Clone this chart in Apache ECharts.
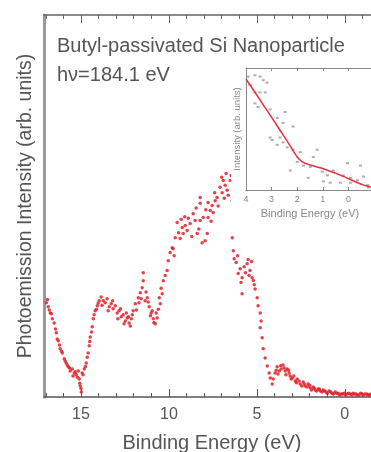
<!DOCTYPE html>
<html><head><meta charset="utf-8">
<script src="https://cdn.jsdelivr.net/npm/echarts@6/dist/echarts.min.js"></script>
<style>html,body{margin:0;padding:0;background:#fff}#c{width:371px;height:452px}</style>
</head><body><div id="c"></div>
<script>
// Main spectrum: binding energy (eV) and photoemission intensity (arb. units)
const mainEnergy = [16.97,16.86,16.74,16.63,16.52,16.40,16.29,16.18,16.06,15.95,15.84,15.72,15.61,15.50,15.38,15.27,15.15,15.10,15.04,14.98,14.93,14.81,14.70,14.59,14.53,14.47,14.36,14.30,14.19,14.07,13.96,13.85,13.73,13.62,13.51,13.39,13.28,13.17,13.05,12.94,12.83,12.71,12.60,12.48,12.37,12.26,12.14,12.03,11.91,11.74,11.63,11.52,11.46,11.46,11.35,11.23,11.12,11.01,10.95,10.89,10.78,10.67,10.49,10.38,10.32,10.21,10.10,10.04,9.93,9.81,9.76,9.64,9.53,9.36,9.24,9.19,9.07,8.96,8.79,8.62,8.51,8.39,8.22,8.22,8.22,8.11,8.05,7.94,7.82,7.77,7.77,7.65,7.54,7.48,7.37,7.26,7.09,6.97,6.91,6.80,6.69,6.63,6.52,6.46,6.40,6.40,6.34,6.29,6.18,6.06,5.95,5.84,5.84,5.72,5.55,5.44,5.39,5.27,5.15,5.10,4.98,4.93,4.81,4.81,4.76,4.70,4.64,4.53,4.41,4.30,4.24,4.13,4.07,3.96,3.85,3.73,3.62,3.51,3.39,3.28,3.17,3.11,2.99,2.82,2.71,2.54,2.37,2.26,2.09,1.97,1.80,1.69,1.52,1.40,1.23,1.06,0.89,0.72,0.55,0.38,0.21,0.04,-0.13,-0.30,-0.47,-0.64,-0.81,-0.98,-1.15,-1.32,-1.49,-1.66,-1.83];
const mainIntensity = [24.7,23.6,22.0,20.5,19.4,16.8,14.7,12.6,11.5,10.0,8.9,7.9,6.8,7.3,6.3,5.8,6.8,4.7,2.9,1.3,6.3,7.3,8.9,11.5,13.4,15.7,18.4,20.5,22.6,23.9,25.2,26.2,25.2,24.7,25.7,23.6,24.4,23.1,23.9,22.0,22.6,21.0,21.5,19.9,20.7,19.4,20.5,22.6,24.4,26.0,27.3,28.6,30.4,32.5,25.2,26.0,23.6,22.0,22.6,20.5,19.2,20.7,24.4,27.0,30.4,31.8,33.1,35.7,37.8,39.1,38.8,41.7,45.7,41.5,44.4,42.8,44.9,43.6,45.4,48.0,46.2,42.8,46.2,50.7,52.2,40.4,47.0,40.9,42.8,47.0,50.9,48.8,50.1,48.3,51.4,52.2,54.9,53.5,56.7,55.4,54.1,52.8,56.7,58.0,51.4,41.7,38.3,36.2,35.2,32.3,33.6,31.2,27.0,34.1,34.9,31.8,33.1,31.2,29.4,28.3,26.0,23.9,22.0,18.1,19.9,15.5,12.6,10.2,8.1,6.3,5.0,3.4,4.7,6.3,7.9,6.8,7.3,8.4,6.8,7.3,6.3,5.5,5.0,4.2,4.7,3.4,3.9,2.9,3.4,2.4,2.6,1.8,2.1,1.6,1.8,1.3,1.6,1.0,1.3,1.0,0.8,1.0,0.8,0.8,1.0,0.8,0.5,0.8,0.8,0.5,0.8,0.5,0.8];
// Second sweep of points (scatter of the band)
const extraEnergy = [16.90,16.80,16.68,16.45,16.35,16.22,16.10,15.90,15.78,15.65,15.45,15.32,15.20,15.07,15.00,14.88,14.75,14.64,14.50,14.40,14.25,14.12,14.02,13.80,13.45,13.20,12.90,12.75,12.55,12.42,12.30,12.20,12.08,11.85,11.70,11.58,11.30,11.18,11.05,10.85,10.72,10.60,10.55,10.44,9.70,9.45,9.30,9.10,8.90,8.70,8.45,8.30,7.90,7.60,7.40,7.20,7.00,6.85,6.75,6.10,5.90,5.65,5.50,5.30,5.20,3.90,3.80,3.65,3.45,3.35,3.20,3.05,2.90,2.75,2.60,2.45,2.30,2.15,2.00,1.90,1.75,1.60,1.45,1.30,1.15,1.00,0.80,0.65,0.47,0.30,0.12,-0.05,-0.22,-0.40,-0.55,-0.72,-0.90,-1.05,-1.25,-1.40,-1.58];
const extraIntensity = [25.5,22.8,21.8,17.8,15.2,13.6,12.0,9.4,8.4,7.6,5.5,6.6,5.2,3.6,2.2,5.8,8.0,10.4,14.5,17.0,21.5,23.0,24.6,24.0,22.6,25.2,20.5,23.1,19.2,22.0,21.0,18.6,21.5,22.8,24.7,25.7,27.5,24.9,21.3,19.5,22.0,23.0,26.0,28.5,37.0,43.0,46.5,47.2,46.8,42.0,49.5,44.0,49.0,46.0,53.5,50.0,57.5,52.0,58.5,37.0,30.0,32.5,36.0,35.5,30.5,7.0,6.0,8.2,7.6,5.8,7.0,4.7,5.5,3.7,4.2,2.9,3.4,2.6,3.1,1.8,2.3,1.6,2.1,1.3,1.6,1.0,1.3,0.8,1.0,0.5,0.8,0.5,1.0,0.5,0.8,0.5,1.0,0.5,0.8,0.5,0.8];

// Inset: near-edge data and fitted line
const insetEnergy = [3.92,3.65,3.45,3.33,3.18,3.84,3.65,3.45,3.25,3.65,3.53,3.06,2.47,2.78,2.55,2.16,3.06,2.98,2.67,2.78,2.55,2.39,2.16,1.88,1.22,1.37,2.27,2.00,1.76,1.49,1.57,1.02,0.82,0.59,0.04,-0.47,0.20,-0.08,0.98,0.71,0.31,-0.08,-0.35,-0.59,-0.75,-0.78];
const insetIntensity = [9.3,9.4,9.3,9.0,8.8,8.6,8.0,8.0,8.0,7.1,6.8,6.6,6.4,5.9,5.5,5.2,4.3,4.1,4.3,3.7,3.9,3.5,3.3,3.1,3.3,2.7,1.6,2.3,2.0,1.9,1.0,1.5,1.2,1.6,2.2,2.0,1.2,1.0,0.7,0.6,0.6,0.6,0.8,1.1,0.4,0.2];
const fitEnergy = [4.0,3.33,2.67,2.27,2.0,1.8,1.5,1.06,0.3,-0.6,-1.0];
const fitIntensity = [9.1,7.0,4.9,3.6,2.7,2.3,2.05,1.8,1.2,0.4,0.2];

const mainTickLabels = [15,10,5,0];
const mainMinorTicks = [-2,-1,0,1,2,3,4,5,6,7,8,9,10,11,12,13,14,15,16,17];
const insetTicks = [4,3,2,1,0];

const titleText = 'Butyl-passivated Si Nanoparticle';
const photonText = 'h\u03bd=184.1 eV';

const font = '"Liberation Sans", Arial, Helvetica, sans-serif';
const zip = (a, b) => a.map((v, i) => [v, b[i]]);

const chart = echarts.init(document.getElementById('c'), null, {renderer: 'canvas'});

function tickAxis(grid, pos, vals, len, min, max, color, z) {
  return {
    gridIndex: grid, type: 'value', position: pos, inverse: true, min: min, max: max, z: z,
    axisLine: {show: false, onZero: false}, splitLine: {show: false}, axisLabel: {show: false},
    axisTick: {show: true, inside: true, length: len, customValues: vals, lineStyle: {color: color, width: 1}}
  };
}

const option = {
  backgroundColor: '#fff',
  animation: false,
  textStyle: {fontFamily: font},
  grid: [
    {left: 44, top: 15, right: -9, bottom: 55, outerBoundsMode: 'none', containLabel: false},
    {left: 246, top: 68, right: -3, bottom: 262, outerBoundsMode: 'none', containLabel: false}
  ],
  xAxis: [
    {
      gridIndex: 0, type: 'value', position: 'bottom', inverse: true, min: -2, max: 17.1,
      axisLine: {onZero: false, lineStyle: {color: '#555', width: 1.5}},
      axisTick: {show: true, inside: true, length: 4, customValues: mainMinorTicks, lineStyle: {color: '#555'}},
      axisLabel: {customValues: mainTickLabels, color: '#555', fontSize: 16, margin: 10},
      splitLine: {show: false},
      name: 'Binding Energy (eV)', nameLocation: 'middle', nameGap: 36,
      nameTextStyle: {fontSize: 20, color: '#555'}
    },
    tickAxis(0, 'bottom', mainTickLabels, 8, -2, 17.1, '#555', 0),
    {
      gridIndex: 0, type: 'value', position: 'top', inverse: true, min: -2, max: 17.1,
      axisLine: {onZero: false, lineStyle: {color: '#666', width: 1.5}},
      axisTick: {show: true, inside: true, length: 4, customValues: mainMinorTicks, lineStyle: {color: '#666'}},
      axisLabel: {show: false}, splitLine: {show: false}
    },
    tickAxis(0, 'top', mainTickLabels, 8, -2, 17.1, '#666', 0),
    {
      gridIndex: 1, type: 'value', position: 'bottom', inverse: true, min: -1.0, max: 4.0, z: 20,
      axisLine: {onZero: false, lineStyle: {color: '#888', width: 1}},
      axisTick: {show: true, inside: true, length: 3, customValues: insetTicks, lineStyle: {color: '#888'}},
      axisLabel: {customValues: insetTicks, color: '#888', fontSize: 9, margin: 5},
      splitLine: {show: false},
      name: 'Binding Energy (eV)', nameLocation: 'middle', nameGap: 18,
      nameTextStyle: {fontSize: 11, color: '#888'}
    },
    {
      gridIndex: 1, type: 'value', position: 'top', inverse: true, min: -1.0, max: 4.0, z: 20,
      axisLine: {onZero: false, lineStyle: {color: '#888', width: 1}},
      axisTick: {show: true, inside: true, length: 3, customValues: insetTicks, lineStyle: {color: '#888'}},
      axisLabel: {show: false}, splitLine: {show: false}
    }
  ],
  yAxis: [
    {
      gridIndex: 0, type: 'value', min: 0, max: 100, position: 'left',
      axisLine: {show: true, onZero: false, lineStyle: {color: '#999', width: 3}},
      axisTick: {show: false}, axisLabel: {show: false}, splitLine: {show: false},
      name: 'Photoemission Intensity (arb. units)', nameLocation: 'middle', nameGap: 8,
      nameTextStyle: {fontSize: 19.5, color: '#555'}
    },
    {
      gridIndex: 1, type: 'value', min: 0, max: 10, z: 20, position: 'left',
      axisLine: {show: true, onZero: false, lineStyle: {color: '#888', width: 1}},
      axisTick: {show: false}, axisLabel: {show: false}, splitLine: {show: false},
      name: 'Intensity (arb. units)', nameLocation: 'middle', nameGap: 4,
      nameTextStyle: {fontSize: 9.5, color: '#888'}
    }
  ],
  graphic: [
    {type: 'rect', z: 10, shape: {x: 231, y: 58, width: 145, height: 160}, style: {fill: '#fff'}},
    {type: 'text', z: 30, left: 57, top: 36, style: {text: titleText, font: '20px ' + font, fill: '#555'}},
    {type: 'text', z: 30, left: 57, top: 65, style: {text: photonText, font: '20px ' + font, fill: '#555'}}
  ],
  series: [
    {
      type: 'scatter', xAxisIndex: 0, yAxisIndex: 0, z: 2,
      symbol: 'circle', symbolSize: 3.5,
      itemStyle: {color: '#e0202c', opacity: 0.85},
      data: zip(mainEnergy, mainIntensity).concat(zip(extraEnergy, extraIntensity))
    },
    {
      type: 'scatter', xAxisIndex: 4, yAxisIndex: 1, z: 20,
      symbol: 'rect', symbolSize: [3, 2],
      itemStyle: {color: '#999'},
      data: zip(insetEnergy, insetIntensity)
    },
    {
      type: 'line', xAxisIndex: 4, yAxisIndex: 1, z: 21,
      showSymbol: false, smooth: 0.3,
      lineStyle: {color: '#e8303a', width: 1.5},
      data: zip(fitEnergy, fitIntensity)
    }
  ]
};
chart.setOption(option);
</script>
</body></html>
